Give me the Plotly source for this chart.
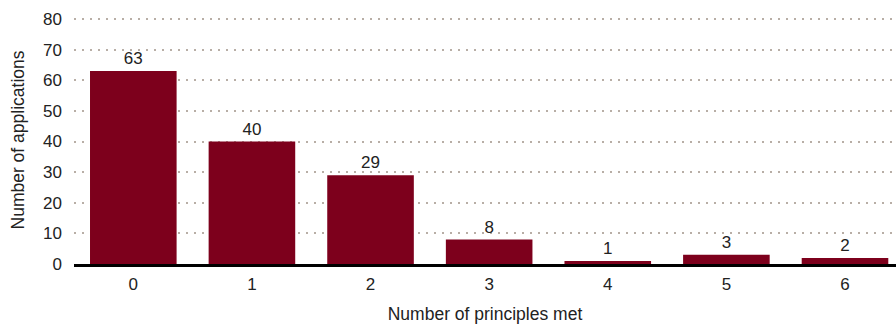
import plotly.graph_objects as go

principles = ["0", "1", "2", "3", "4", "5", "6"]
applications = [63, 40, 29, 8, 1, 3, 2]

fig = go.Figure(
    go.Bar(
        x=principles,
        y=applications,
        marker=dict(color="#7d001c", line=dict(width=0)),
        text=[str(v) for v in applications],
        textposition="outside",
        cliponaxis=False,
        textfont=dict(size=17, color="#222222"),
    )
)

fig.update_layout(
    width=896,
    height=324,
    margin=dict(l=74, r=0, t=16, b=60),
    paper_bgcolor="white",
    plot_bgcolor="white",
    font=dict(family="Liberation Sans, Arial, sans-serif", size=17, color="#222222"),
    bargap=0.27,
    showlegend=False,
)

fig.update_xaxes(
    type="category",
    range=[-0.5, 6.43],
    showgrid=False,
    showline=True,
    linecolor="black",
    linewidth=2.5,
    ticks="",
    ticklabelstandoff=3,
    tickfont=dict(size=17),
    title=dict(text="Number of principles met", font=dict(size=17.5), standoff=15),
)

fig.update_yaxes(
    range=[0, 81],
    tickvals=[0, 10, 20, 30, 40, 50, 60, 70, 80],
    showgrid=True,
    gridcolor="#b8aea6",
    gridwidth=2,
    griddash="2px,6px",
    zeroline=False,
    showline=False,
    ticks="",
    ticklabelstandoff=11,
    tickfont=dict(size=17),
    title=dict(text="Number of applications", font=dict(size=17.5), standoff=13),
)

fig.write_html("out.html")
